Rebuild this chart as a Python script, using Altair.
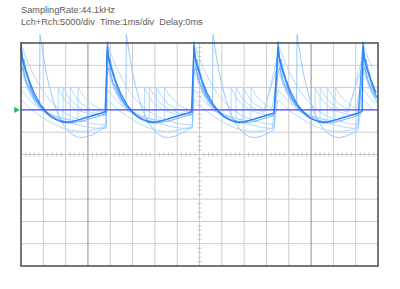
import altair as alt
import pandas as pd

# ---- scope settings ----
jump_ms = [0.0, 3.87, 7.75, 11.52, 15.33]   # trigger (rising edge) times
end_ms = 16.0
trigger_level = 10000                        # counts (5000/div)

grid_ms = list(range(0, 17))
heavy_ms = [3, 13]
grid_counts = list(range(-25000, 25001, 5000))

# ---- traces: time after each jump (ms) and level (counts) ----
main_dt = [0, 0.045, 0.13, 0.22, 0.31, 0.40, 0.49, 0.58, 0.72, 0.90, 1.12, 1.34, 1.57, 1.79, 2.02, 2.24, 2.47, 2.69, 2.91, 3.14, 3.36, 3.59, 3.77]
main_v = [23990, 21750, 19950, 18610, 17260, 16140, 15020, 13900, 12560, 10990, 9640, 8520, 7850, 7400, 7170, 7290, 7620, 7960, 8300, 8630, 8970, 9300, 9640]

b2_dt = [0, 0.045, 0.09, 0.13, 0.22, 0.31, 0.40, 0.54, 0.67, 0.85, 1.08, 1.34, 1.61, 1.97, 2.33, 2.69, 3.14, 3.59, 3.81]
b2_v = [25330, 23090, 20850, 21300, 19060, 17710, 15470, 13680, 12330, 10990, 9640, 8520, 7850, 7400, 7510, 7850, 8520, 9190, 9530]

b3_dt = [0, 0.09, 0.18, 0.27, 0.40, 0.58, 0.81, 1.08, 1.43, 1.88, 2.24, 2.69, 3.14, 3.59, 3.81]
b3_v = [18610, 19500, 17260, 15920, 14570, 12780, 10990, 9420, 8070, 7170, 7060, 7400, 8070, 8740, 9190]

tall_dt = [0, 0.13, 0.27, 0.45, 0.63, 0.83, 0.85, 0.90, 0.99, 1.12, 1.26, 1.43, 1.61, 1.79, 2.02, 2.24, 2.51, 2.78, 3.05, 3.32, 3.59, 3.81]
tall_v = [23540, 20180, 17260, 14570, 12780, 11430, 26900, 25330, 22420, 18610, 15470, 12330, 9640, 7620, 5830, 4710, 3920, 3810, 4150, 4710, 5610, 6280]

saw1_dt = [0, 0.18, 0.36, 0.63, 0.90, 1.26, 1.66, 1.67, 1.79, 2.02, 2.33, 2.69, 3.14, 3.59, 3.81]
saw1_v = [21300, 16820, 14120, 11430, 9860, 8740, 8300, 15020, 13680, 11880, 10540, 9640, 8970, 8740, 8740]

saw2_dt = [0, 0.22, 0.45, 0.76, 1.12, 1.48, 1.88, 1.89, 2.06, 2.33, 2.69, 3.14, 3.81]
saw2_v = [22420, 16820, 13450, 10990, 9420, 8520, 8070, 15020, 13450, 11660, 10310, 9420, 8970]

saw3_dt = [0, 0.27, 0.54, 0.90, 1.34, 1.79, 2.20, 2.21, 2.38, 2.69, 3.14, 3.81]
saw3_v = [20180, 15690, 12780, 10540, 8970, 8070, 7850, 15020, 13450, 11430, 10090, 9420]

saw4_dt = [0, 0.31, 0.67, 1.12, 1.57, 2.02, 2.55, 2.56, 2.78, 3.14, 3.50, 3.81]
saw4_v = [19060, 14570, 11660, 9640, 8520, 7850, 7620, 15020, 13230, 11430, 10310, 9860]

slow1_dt = [0, 0.22, 0.45, 0.72, 0.99, 1.34, 1.79, 2.24, 2.69, 3.14, 3.59, 3.81]
slow1_v = [24890, 21750, 19060, 16370, 14120, 11880, 9860, 8520, 7620, 6950, 6730, 6730]

slow2_dt = [0, 0.22, 0.54, 0.90, 1.34, 1.88, 2.47, 3.05, 3.50, 3.81]
slow2_v = [14570, 13230, 11430, 10090, 8740, 7620, 6730, 6050, 5830, 5830]

slow3_dt = [0, 0.45, 0.90, 1.34, 1.79, 2.24, 2.69, 3.14, 3.59, 3.81]
slow3_v = [12330, 10090, 8520, 7170, 6050, 5380, 5160, 5380, 6050, 6500]

traces = [
    ("slow3", "light", slow3_dt, slow3_v),
    ("slow2", "light", slow2_dt, slow2_v),
    ("slow1", "light", slow1_dt, slow1_v),
    ("saw1", "light", saw1_dt, saw1_v),
    ("saw2", "light", saw2_dt, saw2_v),
    ("saw3", "light", saw3_dt, saw3_v),
    ("saw4", "light", saw4_dt, saw4_v),
    ("tall", "mid", tall_dt, tall_v),
    ("b3", "mid2", b3_dt, b3_v),
    ("b2", "dark2", b2_dt, b2_v),
    ("main", "dark", main_dt, main_v),
]

rows = []
for name, style, dts, vals in traces:
    for k, T in enumerate(jump_ms):
        nxt = jump_ms[k + 1] if k + 1 < len(jump_ms) else end_ms
        for dt, v in zip(dts, vals):
            if T + dt < nxt or (k + 1 == len(jump_ms) and T + dt <= end_ms):
                rows.append({"trace": name, "style": style, "t": T + dt, "v": v})
wave = pd.DataFrame(rows)

W, H = 357, 223
xs = alt.Scale(domain=[0, end_ms], nice=False, zero=False)
ys = alt.Scale(domain=[-25000, 25000], nice=False, zero=False)
X = lambda f: alt.X(f, type="quantitative", scale=xs, axis=None)
Y = lambda f: alt.Y(f, type="quantitative", scale=ys, axis=None)

grid_v = pd.DataFrame({"t": [g for g in grid_ms if 0 < g < 16]})
grid_v["heavy"] = grid_v["t"].isin(heavy_ms)
grid_h = pd.DataFrame({"v": [g for g in grid_counts if -25000 < g < 25000]})

vgrid = alt.Chart(grid_v).mark_rule(strokeWidth=1).encode(
    x=X("t"),
    y=alt.value(0), y2=alt.value(H),
    color=alt.condition("datum.heavy", alt.value("#8c8c8c"), alt.value("#cccccc")),
)
hgrid = alt.Chart(grid_h).mark_rule(strokeWidth=1, color="#cccccc").encode(
    y=Y("v"),
    x=alt.value(0), x2=alt.value(W),
)

minor_t = pd.DataFrame({"t": [i / 5 for i in range(1, 80) if i % 5 != 0]})
minor_t["v"] = 0
minor_v = pd.DataFrame({"v": [i * 1000 for i in range(-24, 25) if i % 5 != 0]})
minor_v["t"] = 8
hticks = alt.Chart(minor_t).mark_tick(orient="vertical", size=4, thickness=1, color="#b0b0b0").encode(
    x=X("t"), y=Y("v")
)
vticks = alt.Chart(minor_v).mark_tick(orient="horizontal", size=4, thickness=1, color="#b0b0b0").encode(
    x=X("t"), y=Y("v")
)

base = alt.Chart(wave)
def tr(style, color, width, opacity):
    return base.transform_filter(alt.datum.style == style).mark_line(
        clip=False, color=color, strokeWidth=width, opacity=opacity, strokeJoin="round"
    ).encode(
        x=X("t"),
        y=Y("v"),
        detail="trace:N",
        order="t:Q",
    )

layers_w = [
    tr("light", "#a3cfff", 1, 0.8),
    tr("mid", "#8cc3ff", 1, 0.9),
    tr("mid2", "#5ea3ff", 1, 0.8),
    tr("dark2", "#3d8fff", 1.1, 0.85),
    tr("dark", "#2a82fb", 1.3, 1),
]

trig_df = pd.DataFrame({"v": [trigger_level]})
trig = alt.Chart(trig_df).mark_rule(color="#5050ff", strokeWidth=1.2).encode(
    y=Y("v"), x=alt.value(0), x2=alt.value(W)
)
marker = alt.Chart(trig_df).mark_point(shape="triangle-right", filled=True, size=40, color="#1fbf5a", opacity=1).encode(
    y=Y("v"), x=alt.value(-4)
)
one = pd.DataFrame({"a": [0]})
border = alt.Chart(one).mark_rect(fill=None, stroke="#4a4a4a", strokeWidth=1.5).encode(
    x=alt.value(0), x2=alt.value(W), y=alt.value(0), y2=alt.value(H)
)
sp = "\u00a0\u00a0"
line1 = alt.Chart(one).mark_text(
    text="SamplingRate:44.1kHz", align="left", baseline="alphabetic",
    font="Liberation Sans", fontSize=9.2, color="#5a5a5a"
).encode(x=alt.value(0), y=alt.value(-30))
line2 = alt.Chart(one).mark_text(
    text="Lch+Rch:5000/div" + sp + "Time:1ms/div" + sp + "Delay:0ms", align="left", baseline="alphabetic",
    font="Liberation Sans", fontSize=9.2, color="#5a5a5a"
).encode(x=alt.value(0), y=alt.value(-18))

chart = alt.layer(
    hgrid, vgrid, hticks, vticks, *layers_w, trig, marker, border, line1, line2
).properties(
    width=W, height=H,
    autosize=alt.AutoSizeParams(type="none"),
    padding={"left": 21, "top": 43, "right": 22, "bottom": 23},
    background="white",
).configure_view(stroke=None)

chart.save("out.html", embed_options={"renderer": "svg", "actions": False})
